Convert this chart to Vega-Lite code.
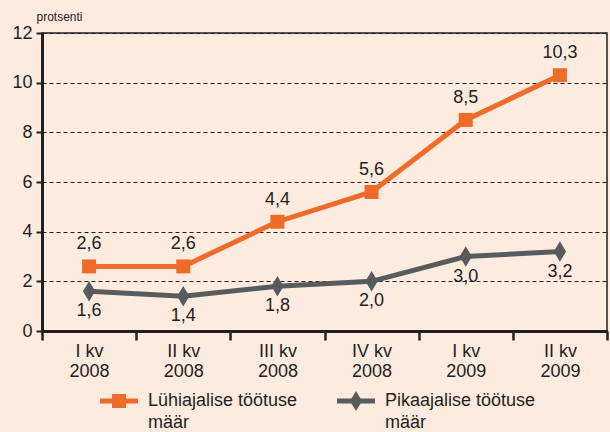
{
  "$schema": "https://vega.github.io/schema/vega-lite/v6.json",
  "width": 565,
  "height": 298,
  "autosize": "none",
  "padding": {"left": 42, "top": 33, "right": 3, "bottom": 101},
  "background": "#FDEBDF",
  "config": {
    "view": {"stroke": "#231F20", "strokeWidth": 1.5},
    "font": "Liberation Sans",
    "locale": {"number": {"decimal": ",", "thousands": " ", "grouping": [3], "currency": ["", " €"]}}
  },
  "data": {
    "values": [
      {"kv": "I kv 2008", "seeria": "Lühiajalise töötuse määr", "v": 2.6},
      {"kv": "II kv 2008", "seeria": "Lühiajalise töötuse määr", "v": 2.6},
      {"kv": "III kv 2008", "seeria": "Lühiajalise töötuse määr", "v": 4.4},
      {"kv": "IV kv 2008", "seeria": "Lühiajalise töötuse määr", "v": 5.6},
      {"kv": "I kv 2009", "seeria": "Lühiajalise töötuse määr", "v": 8.5},
      {"kv": "II kv 2009", "seeria": "Lühiajalise töötuse määr", "v": 10.3},
      {"kv": "I kv 2008", "seeria": "Pikaajalise töötuse määr", "v": 1.6},
      {"kv": "II kv 2008", "seeria": "Pikaajalise töötuse määr", "v": 1.4},
      {"kv": "III kv 2008", "seeria": "Pikaajalise töötuse määr", "v": 1.8},
      {"kv": "IV kv 2008", "seeria": "Pikaajalise töötuse määr", "v": 2.0},
      {"kv": "I kv 2009", "seeria": "Pikaajalise töötuse määr", "v": 3.0},
      {"kv": "II kv 2009", "seeria": "Pikaajalise töötuse määr", "v": 3.2}
    ]
  },
  "encoding": {
    "x": {
      "field": "kv", "type": "nominal", "sort": null,
      "axis": {
        "title": null, "labelAngle": 0, "tickBand": "extent",
        "domainColor": "#231F20", "domainWidth": 3,
        "tickColor": "#231F20", "tickWidth": 2.5, "tickSize": 9,
        "labelFontSize": 18, "labelColor": "#231F20", "labelLineHeight": 20,
        "labelBaseline": "top", "labelPadding": 2,
        "labelExpr": "[slice(datum.label, 0, -5), slice(datum.label, -4)]"
      }
    },
    "y": {
      "field": "v", "type": "quantitative",
      "scale": {"domain": [0, 12], "nice": false},
      "axis": {
        "values": [0, 2, 4, 6, 8, 10, 12],
        "title": "protsenti", "titleAngle": 0, "titleAlign": "left", "titleBaseline": "middle",
        "titleX": -6, "titleY": -17, "titleFontSize": 12, "titleFontWeight": "normal", "titleColor": "#231F20",
        "domainColor": "#231F20", "domainWidth": 3,
        "tickColor": "#231F20", "tickWidth": 2, "tickSize": 6,
        "labelFontSize": 18, "labelColor": "#231F20", "labelPadding": 4,
        "grid": true, "gridColor": "#231F20", "gridDash": [4, 3], "gridWidth": 1,
        "format": "d"
      }
    }
  },
  "layer": [
    {
      "mark": {"type": "line", "strokeWidth": 5},
      "encoding": {
        "color": {"field": "seeria", "type": "nominal",
          "scale": {"domain": ["Lühiajalise töötuse määr", "Pikaajalise töötuse määr"], "range": ["#EF6B2A", "#575B5D"]},
          "legend": null}
      }
    },
    {
      "mark": {"type": "point", "filled": true, "opacity": 1},
      "encoding": {
        "color": {"field": "seeria", "type": "nominal",
          "scale": {"domain": ["Lühiajalise töötuse määr", "Pikaajalise töötuse määr"], "range": ["#EF6B2A", "#575B5D"]},
          "legend": null},
        "shape": {"field": "seeria", "type": "nominal",
          "scale": {"domain": ["Lühiajalise töötuse määr", "Pikaajalise töötuse määr"], "range": ["square", "M0,-1L0.6,0L0,1L-0.6,0Z"]},
          "legend": null},
        "size": {"field": "seeria", "type": "nominal",
          "scale": {"domain": ["Lühiajalise töötuse määr", "Pikaajalise töötuse määr"], "range": [196, 420]},
          "legend": null}
      }
    },
    {
      "mark": {"type": "point", "filled": true, "opacity": 0},
      "encoding": {
        "color": {"field": "seeria", "type": "nominal",
          "scale": {"domain": ["Lühiajalise töötuse määr", "Pikaajalise töötuse määr"], "range": ["#EF6B2A", "#575B5D"]},
          "legend": {
            "orient": "none", "legendX": 58, "legendY": 349, "direction": "horizontal",
            "title": null, "padding": 0, "symbolSize": 1444, "symbolStrokeWidth": 0, "symbolOpacity": 1,
            "labelFontSize": 18, "labelColor": "#231F20", "labelBaseline": "top", "labelOffset": 10,
            "columnPadding": 39, "labelLimit": 300,
            "labelExpr": "[replace(datum.label, ' määr', ''), 'määr']",
            "encode": {"symbols": {"update": {"opacity": {"value": 1}}}, "labels": {"update": {"dy": {"value": -9}, "lineHeight": {"value": 22}}}}
          }},
        "shape": {"field": "seeria", "type": "nominal",
          "scale": {"domain": ["Lühiajalise töötuse määr", "Pikaajalise töötuse määr"],
            "range": ["M-1,-0.13H1V0.13H-1Z M-0.37,-0.37H0.37V0.37H-0.37Z", "M-1,-0.13H1V0.13H-1Z M0,-0.53L0.32,0L0,0.53L-0.32,0Z"]},
          "legend": {
            "orient": "none", "legendX": 58, "legendY": 349, "direction": "horizontal",
            "title": null, "padding": 0, "symbolSize": 1444, "symbolStrokeWidth": 0, "symbolOpacity": 1,
            "labelFontSize": 18, "labelColor": "#231F20", "labelBaseline": "top", "labelOffset": 10,
            "columnPadding": 39, "labelLimit": 300,
            "labelExpr": "[replace(datum.label, ' määr', ''), 'määr']",
            "encode": {"symbols": {"update": {"opacity": {"value": 1}}}, "labels": {"update": {"dy": {"value": -9}, "lineHeight": {"value": 22}}}}
          }}
      }
    },
    {
      "transform": [{"filter": "datum.seeria == 'Lühiajalise töötuse määr'"}],
      "mark": {"type": "text", "dy": -22, "fontSize": 18, "color": "#231F20"},
      "encoding": {"text": {"field": "v", "type": "quantitative", "format": ".1f"}}
    },
    {
      "transform": [{"filter": "datum.seeria == 'Pikaajalise töötuse määr'"}],
      "mark": {"type": "text", "dy": 20, "fontSize": 18, "color": "#231F20"},
      "encoding": {"text": {"field": "v", "type": "quantitative", "format": ".1f"}}
    }
  ],
  "resolve": {"scale": {"shape": "independent", "color": "independent", "size": "independent"}}
}
